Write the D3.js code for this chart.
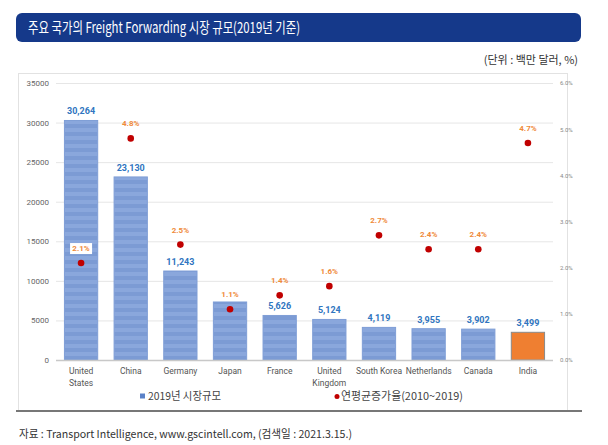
<!DOCTYPE html>
<html>
<head>
<meta charset="utf-8">
<script src="https://cdn.jsdelivr.net/npm/d3@7"></script>
<style>
  body { margin: 0; background: #fff; }
  svg { display: block; font-family: 'Noto Sans CJK KR', 'Noto Sans', sans-serif; }
</style>
</head>
<body>
<div id="chart"></div>
<script>
const countries = ['United\nStates', 'China', 'Germany', 'Japan', 'France', 'United\nKingdom', 'South Korea', 'Netherlands', 'Canada', 'India'];
const marketSize = [30264, 23130, 11243, 7330, 5626, 5124, 4119, 3955, 3902, 3499];
const sizeLabels = ['30,264', '23,130', '11,243', null, '5,626', '5,124', '4,119', '3,955', '3,902', '3,499'];
const cagr = [2.1, 4.8, 2.5, 1.1, 1.4, 1.6, 2.7, 2.4, 2.4, 4.7];
const leftTicks = [0, 5000, 10000, 15000, 20000, 25000, 30000, 35000];
const rightTicks = [0, 1, 2, 3, 4, 5, 6];

const width = 608, height = 445;
const svg = d3.select('#chart').append('svg').attr('width', width).attr('height', height);
const idx = d3.range(countries.length);
const last = countries.length - 1;

// stripe pattern for the bars
const pat = svg.append('defs').append('pattern')
  .attr('id', 'stripes')
  .attr('patternUnits', 'userSpaceOnUse')
  .attr('width', 8).attr('height', 8);
pat.append('rect').attr('width', 8).attr('height', 8).attr('fill', '#8aa7dc');
pat.append('rect').attr('y', 4).attr('width', 8).attr('height', 4).attr('fill', '#7c9bd4');

// title bar
svg.append('rect')
  .attr('x', 16).attr('y', 13).attr('width', 565).attr('height', 29)
  .attr('rx', 6).attr('fill', '#15398a');
svg.append('text')
  .attr('x', 28).attr('y', 33)
  .attr('fill', '#fff').attr('font-size', 15)
  .attr('textLength', 272).attr('lengthAdjust', 'spacingAndGlyphs')
  .text('주요 국가의 Freight Forwarding 시장 규모(2019년 기준)');

svg.append('text')
  .attr('x', 578).attr('y', 64)
  .attr('text-anchor', 'end').attr('font-size', 11).attr('fill', '#333')
  .text('(단위 : 백만 달러, %)');

// panel
svg.append('rect')
  .attr('x', 18.5).attr('y', 73.5).attr('width', 549).attr('height', 337)
  .attr('fill', 'none').attr('stroke', '#e2e2e2');
svg.append('line')
  .attr('x1', 16).attr('x2', 582).attr('y1', 411).attr('y2', 411)
  .attr('stroke', '#777').attr('stroke-width', 2);

const x = d3.scaleBand().domain(idx).range([56, 553]).paddingInner(0.33).paddingOuter(0.17);
const y = d3.scaleLinear().domain([0, 35000]).range([360, 83]);
const y2 = d3.scaleLinear().domain([0, 6]).range([360, 83]);
const cx = i => x(i) + x.bandwidth() / 2;

// grid
svg.append('g').selectAll('line')
  .data(leftTicks.slice(1))
  .enter().append('line')
  .attr('x1', 56).attr('x2', 553)
  .attr('y1', d => y(d) + 0.5).attr('y2', d => y(d) + 0.5)
  .attr('stroke', '#e6e6e6');

// left axis
const yAxis = svg.append('g')
  .attr('transform', 'translate(49,0)')
  .call(d3.axisLeft(y).tickValues(leftTicks).tickSize(0).tickPadding(0).tickFormat(d3.format('d')));
yAxis.select('.domain').remove();
yAxis.selectAll('text').attr('font-size', 8).attr('fill', '#666').attr('font-family', 'Roboto, sans-serif');

// right axis
const y2Axis = svg.append('g')
  .attr('transform', 'translate(560,0)')
  .call(d3.axisRight(y2).tickValues(rightTicks).tickSize(0).tickPadding(0).tickFormat(d => d.toFixed(1) + '%'));
y2Axis.select('.domain').remove();
y2Axis.selectAll('text').attr('font-size', 6).attr('fill', '#888').attr('font-family', 'Roboto, sans-serif');

// bars
svg.append('g').selectAll('rect')
  .data(idx)
  .enter().append('rect')
  .attr('x', i => x(i))
  .attr('y', i => y(marketSize[i]))
  .attr('width', x.bandwidth())
  .attr('height', i => y(0) - y(marketSize[i]))
  .attr('fill', i => i === last ? '#ef7f31' : 'url(#stripes)')
  .attr('stroke', i => i === last ? '#8a8a8a' : '#7f9ed6')
  .attr('stroke-width', 1);

// baseline
svg.append('line')
  .attr('x1', 56).attr('x2', 553).attr('y1', 360.5).attr('y2', 360.5)
  .attr('stroke', '#c8c8c8').attr('stroke-width', 1.5);

// bar value labels (Japan's is hidden in the original)
svg.append('g').selectAll('text')
  .data(idx.filter(i => sizeLabels[i] !== null))
  .enter().append('text')
  .attr('x', cx)
  .attr('y', i => y(marketSize[i]) - 6)
  .attr('text-anchor', 'middle')
  .attr('font-family', 'Roboto, sans-serif')
  .attr('font-weight', 'bold')
  .attr('font-size', 9)
  .attr('fill', '#2f75c0')
  .text(i => sizeLabels[i]);

// x labels
svg.append('g').selectAll('text')
  .data(idx)
  .enter().append('text')
  .attr('text-anchor', 'middle')
  .attr('font-size', 8.5)
  .attr('fill', '#555')
  .attr('font-family', 'Roboto, sans-serif')
  .each(function (i) {
    d3.select(this).selectAll('tspan')
      .data(countries[i].split('\n'))
      .enter().append('tspan')
      .attr('x', cx(i))
      .attr('y', (l, j) => 374 + j * 11.5)
      .text(l => l);
  });

// percent labels
const pl = svg.append('g').selectAll('g')
  .data(idx)
  .enter().append('g')
  .attr('transform', i => `translate(${cx(i)},${y2(cagr[i]) - 12})`);
pl.filter(i => i === 0).append('rect')
  .attr('x', -11).attr('y', -8).attr('width', 22).attr('height', 11).attr('fill', '#fff');
pl.append('text')
  .attr('text-anchor', 'middle')
  .attr('font-family', 'Roboto, sans-serif')
  .attr('font-weight', 'bold')
  .attr('font-size', 8)
  .attr('fill', '#ef8a3a')
  .text(i => cagr[i].toFixed(1) + '%');

// dots
svg.append('g').selectAll('circle')
  .data(idx)
  .enter().append('circle')
  .attr('cx', cx)
  .attr('cy', i => y2(cagr[i]))
  .attr('r', 3.3)
  .attr('fill', '#c00000');

// legend
const lg = svg.append('g').attr('font-size', 11).attr('fill', '#444');
lg.append('rect').attr('x', 140).attr('y', 393.5).attr('width', 5).attr('height', 5).attr('fill', '#5b82c8');
lg.append('text').attr('x', 148).attr('y', 400)
  .attr('textLength', 73).attr('lengthAdjust', 'spacingAndGlyphs')
  .text('2019년 시장규모');
lg.append('circle').attr('cx', 337).attr('cy', 396.5).attr('r', 2.5).attr('fill', '#c00000');
lg.append('text').attr('x', 341).attr('y', 400)
  .attr('textLength', 122).attr('lengthAdjust', 'spacingAndGlyphs')
  .text('연평균증가율(2010~2019)');

// source
svg.append('text')
  .attr('x', 19).attr('y', 438)
  .attr('font-size', 11).attr('fill', '#333')
  .attr('textLength', 333).attr('lengthAdjust', 'spacingAndGlyphs')
  .text('자료 : Transport Intelligence, www.gscintell.com, (검색일 : 2021.3.15.)');
</script>
</body>
</html>
